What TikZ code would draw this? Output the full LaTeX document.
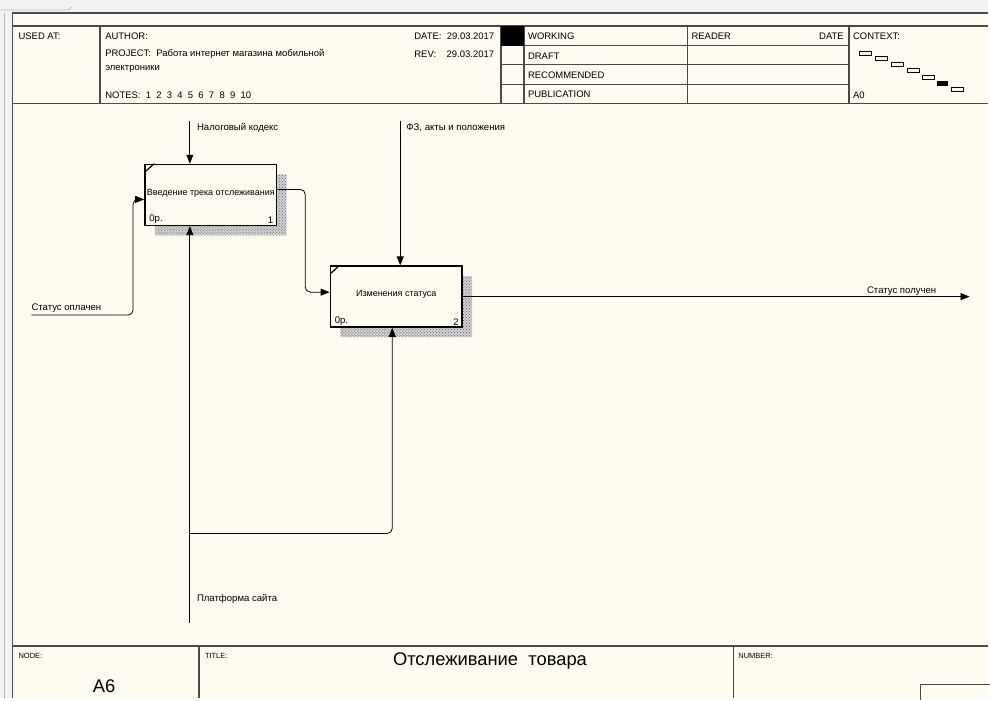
\documentclass[tikz,border=0pt]{standalone}
\usepackage{fontspec}
\setmainfont{Liberation Sans}
\usetikzlibrary{arrows.meta,positioning,calc,patterns}
\definecolor{idfpaper}{HTML}{FFFBF0}
\definecolor{idfgray}{HTML}{F2F2F2}
\definecolor{idfedge}{HTML}{B8B8B8}
\definecolor{idfrule}{HTML}{4A4A4A}
\definecolor{idfshade}{HTML}{9A9A9A}
\tikzset{
  func/.style={draw=black, line width=1.6pt, fill=idfpaper, minimum width=132pt,
    minimum height=61pt, inner sep=0pt, font=\fontsize{9}{10}\selectfont},
  arc/.style={-{Triangle[length=9pt,width=7pt]}, line width=0.8pt, rounded corners=5pt},
  lbl/.style={font=\fontsize{9.6}{11}\selectfont, inner sep=0pt, anchor=west},
  hdr/.style={font=\fontsize{9.5}{11}\selectfont, inner sep=0pt, anchor=west},
  rule/.style={draw=idfrule, line width=1.4pt},
  thinrule/.style={draw=idfrule, line width=1pt},
  ctxbox/.style={draw=black, line width=0.8pt, fill=idfpaper},
}

\begin{document}
\begin{tikzpicture}[x=1pt, y=-1pt]
    % page and frame
    \fill[idfgray] (0,0) rectangle (990,700);
    \fill[idfpaper] (12,13) rectangle (990,700);
    \draw[idfedge, line width=0.8pt] (0,10) -- (68,10) -- (72,7);
    \draw[idfedge, line width=0.8pt] (4,13) -- (4,700);
    \draw[rule] (12,700) -- (12,13) -- (990,13);
    \draw[rule] (12,26) -- (990,26);
    \draw[rule] (12,104) -- (990,104);
    \draw[rule] (12,648) -- (990,648);
    % header table
    \foreach \x in {100,502,525,689,851} {
      \draw[rule] (\x,26) -- (\x,104);
    }
    \foreach \y in {46,65,85} {
      \draw[thinrule] (502,\y) -- (851,\y);
    }
    \fill[black] (502,26) rectangle (525,46);
    \node[hdr] (usedat) at (18,36) {USED AT:};
    \node[hdr] (author) at (105,36) {AUTHOR:};
    \node[hdr] (project) at (105,54) {PROJECT:\ \ Работа интернет магазина мобильной};
    \node[hdr] (project2) at (105,69) {электроники};
    \node[hdr] (notes) at (105,96) {NOTES:\ \ 1\ \ 2\ \ 3\ \ 4\ \ 5\ \ 6\ \ 7\ \ 8\ \ 9\ \ 10};
    \node[hdr] (date) at (415,36) {DATE:\ \ 29.03.2017};
    \node[hdr] (rev) at (415,54) {REV:\ \ \ \ 29.03.2017};
    \node[hdr] (working) at (529,36) {WORKING};
    \node[hdr] (draft) at (529,56) {DRAFT};
    \node[hdr] (recom) at (529,75) {RECOMMENDED};
    \node[hdr] (publ) at (529,95) {PUBLICATION};
    \node[hdr] (reader) at (693,36) {READER};
    \node[hdr, anchor=east] (rdate) at (846,36) {DATE};
    \node[hdr] (context) at (855,36) {CONTEXT:};
    \node[hdr] (ctxnode) at (855,96) {A0};
    % context boxes
    \foreach \x/\y in {862/52,878/57,894/63,910/69,925/76,954/88} {
      \draw[ctxbox] (\x,\y) rectangle ++(12,4);
    }
    \fill[black] (939,81) rectangle (950,86);
    % footer
    \foreach \x in {199,735} {
      \draw[rule] (\x,648) -- (\x,700);
    }
    \draw[thinrule] (923,702) -- (923,686) -- (992,686);
    \node[hdr, font=\fontsize{7.5}{9}\selectfont] (nodelbl) at (18,658) {NODE:};
    \node[hdr, font=\fontsize{7.5}{9}\selectfont] (titlelbl) at (205,658) {TITLE:};
    \node[hdr, font=\fontsize{7.5}{9}\selectfont] (numlbl) at (740,658) {NUMBER:};
    \node[inner sep=0pt, font=\fontsize{18.4}{22}\selectfont] (title) at (491,663) {Отслеживание\ \ товара};
    \node[inner sep=0pt, font=\fontsize{18.4}{22}\selectfont] (nodeid) at (104,688) {A6};
    % shadows
    \foreach \x/\y in {145/165,331/267} {
      \fill[idfshade!45]
        (\x+132,\y+10) rectangle (\x+142,\y+71)
        (\x+10,\y+61) rectangle (\x+132,\y+71);
      \fill[pattern=crosshatch dots, pattern color=idfshade!60!black]
        (\x+132,\y+10) rectangle (\x+142,\y+71)
        (\x+10,\y+61) rectangle (\x+132,\y+71);
    }
    % functions
    \node[func] (b1) at (211,195.5) {\raisebox{6pt}{Введение трека отслеживания}};
    \node[func] (b2) at (397,297.5) {\raisebox{6pt}{Изменения статуса}};
    \draw[line width=1.2pt] ($(b1.north west)+(1,8)$) -- ($(b1.north west)+(10,0)$);
    \draw[line width=1.2pt] ($(b2.north west)+(1,8)$) -- ($(b2.north west)+(10,0)$);
    \node[lbl, anchor=south west] (b1cost) at ($(b1.south west)+(5,-2)$) {0р.};
    \node[lbl, anchor=south east] (b1num) at ($(b1.south east)+(-4,-2)$) {1};
    \node[lbl, anchor=south west] (b2cost) at ($(b2.south west)+(5,-2)$) {0р.};
    \node[lbl, anchor=south east] (b2num) at ($(b2.south east)+(-4,-2)$) {2};
    % arrows
    \coordinate (c1) at (190,121);
    \coordinate (c2) at (401,121);
    \coordinate (i1) at (31,316);
    \coordinate (o1) at (972,297.5);
    \coordinate (m1) at (190,625);
    \coordinate (m2) at (190,535);
    \draw[arc] (c1) -- (c1 |- b1.north);
    \draw[arc] (c2) -- (c2 |- b2.north);
    \draw[arc] (i1) -- ++(102,0) |- ([yshift=-4.5pt]b1.west);
    \draw[arc] ([yshift=5.5pt]b1.east) -- ++(28,0) |- ([yshift=4.5pt]b2.west);
    \draw[arc] (b2.east) -- (o1);
    \draw[arc] (m1) -- (m1 |- b1.south);
    \draw[arc] (m2) -| ([xshift=-4pt]b2.south);
    % labels
    \node[lbl] (l1) at (197,128) {Налоговый кодекс};
    \node[lbl] (l2) at (407,128) {ФЗ, акты и положения};
    \node[lbl] (l3) at (31,309) {Статус оплачен};
    \node[lbl] (l4) at (869,292) {Статус получен};
    \node[lbl] (l5) at (197,601) {Платформа сайта};
\end{tikzpicture}
\end{document}
